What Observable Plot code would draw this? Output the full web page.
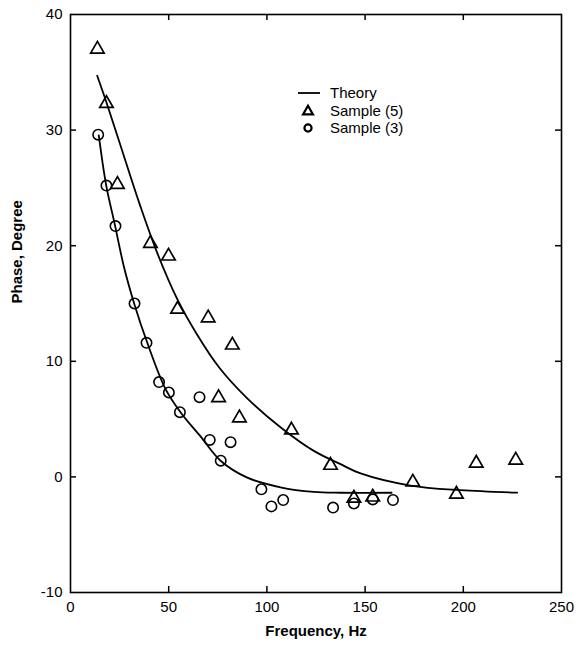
<!DOCTYPE html>
<html><head><meta charset="utf-8">
<script src="https://cdn.jsdelivr.net/npm/d3@7"></script>
<script src="https://cdn.jsdelivr.net/npm/@observablehq/plot@0.6"></script>
<style>
body{margin:0;background:#fff;}
#wrap{position:relative;width:576px;height:649px;}
#legend{position:absolute;left:290px;top:80px;}
</style></head><body><div id="wrap"></div>
<script>
// Sample (5) — triangles
const sample5Freq  = [13.7, 18.3, 23.9, 40.7, 49.9, 54.5, 70.1, 75.4, 82.4, 86.0, 112.5, 132.4, 144.3, 153.9, 174.3, 196.5, 206.6, 226.7];
const sample5Phase = [37.0, 32.3, 25.3, 20.2, 19.1, 14.5, 13.75, 6.85, 11.4, 5.1, 4.05, 1.0, -1.85, -1.75, -0.45, -1.5, 1.18, 1.45];
// Sample (3) — circles
const sample3Freq  = [14.1, 18.3, 22.9, 32.6, 38.7, 45.1, 50.1, 55.7, 65.7, 70.9, 76.5, 81.5, 97.2, 102.3, 108.3, 133.7, 144.3, 153.9, 164.2];
const sample3Phase = [29.6, 25.2, 21.7, 15.0, 11.6, 8.2, 7.3, 5.6, 6.9, 3.2, 1.4, 3.0, -1.07, -2.55, -2.0, -2.65, -2.3, -1.95, -2.0];
// Theory curves
const theory5Freq  = [13.6, 18.7, 27.1, 35.6, 44.1, 54.3, 64.5, 76, 90, 106.9, 123.9, 137.5, 147.7, 173.1, 198.6, 227.4];
const theory5Phase = [34.7, 32.2, 27.8, 23.4, 19.4, 15.4, 12.3, 9.4, 6.8, 4.3, 2.25, 1.1, 0.3, -0.75, -1.15, -1.36];
const theory3Freq  = [14.4, 18.2, 22.6, 27.1, 32.6, 39.1, 48.4, 56, 66.2, 76.4, 90, 106.9, 123.9, 137.5, 163.5];
const theory3Phase = [29.55, 25.2, 21.8, 18.25, 14.9, 11.6, 7.6, 5.6, 3.5, 1.4, -0.06, -0.9, -1.3, -1.37, -1.37];

const xTickLabels = [0, 50, 100, 150, 200, 250];
const yTickLabels = [-10, 0, 10, 20, 30, 40];
const xInnerTicks = [50, 100, 150, 200];
const yInnerTicks = [0, 10, 20, 30];
const legendLabels = ["Theory", "Sample (5)", "Sample (3)"];

const zip = (xs, ys) => xs.map((x, i) => ({x, y: ys[i]}));
const s5 = zip(sample5Freq, sample5Phase);
const s3 = zip(sample3Freq, sample3Phase);
const t5 = zip(theory5Freq, theory5Phase);
const t3 = zip(theory3Freq, theory3Phase);

const font = '"Liberation Sans", Arial, Helvetica, sans-serif';
const plain = d => String(d);

const W = 576, H = 649, mL = 70, mR = 15, mT = 14, mB = 57;
const innerW = W - mL - mR, innerH = H - mT - mB, tick = 6;

const chart = Plot.plot({
  width: W,
  height: H,
  marginLeft: mL,
  marginRight: mR,
  marginTop: mT,
  marginBottom: mB,
  style: {fontFamily: font, fontSize: "15px", color: "#000", background: "#fff", overflow: "visible"},
  x: {domain: [0, 250], label: null},
  y: {domain: [-10, 40], label: null},
  marks: [
    // inward ticks on all four sides
    Plot.tickX(xInnerTicks, {x: d => d, insetTop: innerH - tick, stroke: "#000", strokeWidth: 1.5}),
    Plot.tickX(xInnerTicks, {x: d => d, insetBottom: innerH - tick, stroke: "#000", strokeWidth: 1.5}),
    Plot.tickY(yInnerTicks, {y: d => d, insetRight: innerW - tick, stroke: "#000", strokeWidth: 1.5}),
    Plot.tickY(yInnerTicks, {y: d => d, insetLeft: innerW - tick, stroke: "#000", strokeWidth: 1.5}),
    Plot.axisX(xTickLabels, {anchor: "bottom", tickSize: 0, tickPadding: 9, fontSize: 15, tickFormat: plain, label: null}),
    Plot.axisY(yTickLabels, {anchor: "left", tickSize: 0, tickPadding: 8, fontSize: 15, tickFormat: plain, label: null}),
    Plot.frame({stroke: "#000", strokeWidth: 1.6}),
    Plot.line(t5, {x: "x", y: "y", curve: "catmull-rom", stroke: "#000", strokeWidth: 1.8}),
    Plot.line(t3, {x: "x", y: "y", curve: "catmull-rom", stroke: "#000", strokeWidth: 1.8}),
    Plot.dot(s5, {x: "x", y: "y", symbol: "triangle", r: 5, stroke: "#000", strokeWidth: 1.7, fill: "none"}),
    Plot.dot(s3, {x: "x", y: "y", symbol: "circle", r: 5.2, stroke: "#000", strokeWidth: 1.6, fill: "none"}),
    Plot.text(["Frequency, Hz"], {frameAnchor: "bottom", dy: 43, fontWeight: "bold", fontSize: 15}),
    Plot.text(["Phase, Degree"], {frameAnchor: "left", dx: -53, rotate: -90, fontWeight: "bold", fontSize: 15})
  ]
});

const wrap = document.getElementById("wrap");
wrap.appendChild(chart);

// Legend overlay
const lg = d3.select(wrap).append("svg").attr("id", "legend")
  .attr("width", 160).attr("height", 60)
  .style("font-family", font).style("font-size", "15px");
legendLabels.forEach((lab, i) => {
  const cy = 13 + i * 17.5;
  if (i === 0) {
    lg.append("line").attr("x1", 8).attr("x2", 30).attr("y1", cy).attr("y2", cy)
      .attr("stroke", "#000").attr("stroke-width", 1.8);
  } else {
    lg.append("path")
      .attr("d", d3.symbol(i === 1 ? d3.symbolTriangle : d3.symbolCircle, i === 1 ? 42 : 40)())
      .attr("transform", `translate(18,${cy + (i === 1 ? 1 : 0)})`)
      .attr("fill", "none").attr("stroke", "#000").attr("stroke-width", 2.2);
  }
  lg.append("text").attr("x", 40).attr("y", cy).attr("dy", "0.35em").attr("fill", "#000").text(lab);
});
</script>
</body></html>
